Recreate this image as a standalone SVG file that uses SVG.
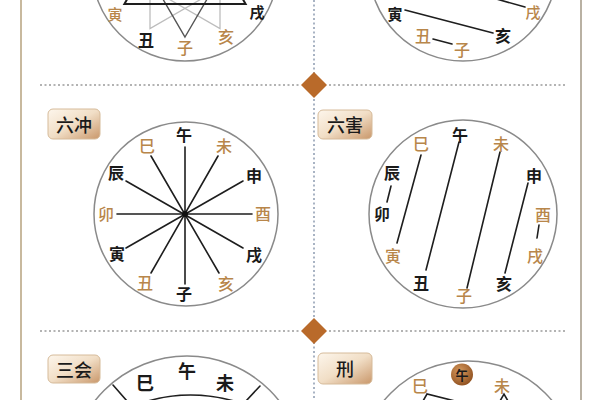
<svg xmlns="http://www.w3.org/2000/svg" width="600" height="400" viewBox="0 0 600 400">
<defs>
<linearGradient id="boxg" x1="0" y1="0" x2="1" y2="1">
<stop offset="0" stop-color="#fdf6ec"/>
<stop offset="0.5" stop-color="#f1dec6"/>
<stop offset="1" stop-color="#c9976a"/>
</linearGradient>
<radialGradient id="badge" cx="0.4" cy="0.35" r="0.7">
<stop offset="0" stop-color="#d79a5e"/>
<stop offset="1" stop-color="#8e4f1e"/>
</radialGradient>
<style>
.ring{fill:none;stroke:#8a8a8a;stroke-width:1.5}
.ln{stroke:#1e1e1e;stroke-width:1.6;fill:none;stroke-linecap:round}
.k{font-family:"Noto Sans CJK SC","Noto Sans CJK JP",sans-serif;font-size:16px;font-weight:700;fill:#1a1a1a;text-anchor:middle;dominant-baseline:central}
.o{font-family:"Noto Sans CJK SC","Noto Sans CJK JP",sans-serif;font-size:16px;font-weight:500;fill:#b8864a;text-anchor:middle;dominant-baseline:central}
.big{font-size:18px}
.sm{font-size:15px}
.box{fill:url(#boxg);stroke:#d6bb9a;stroke-width:1}
.bt{font-family:"Noto Sans CJK SC","Noto Sans CJK JP",sans-serif;font-size:18px;font-weight:500;fill:#1a1a1a;text-anchor:middle;dominant-baseline:central}
.dot{stroke:#9a9a9a;stroke-width:1.5;stroke-dasharray:2 2.5;fill:none}
.vdot{stroke:#8c9ab0;stroke-width:1.5;stroke-dasharray:2 2.5;fill:none}
.dia{fill:#b96a2a}
</style>
</defs>
<rect width="600" height="400" fill="#ffffff"/>

<g id="frame">
<line x1="21" y1="0" x2="21" y2="400" stroke="#c8b99e" stroke-width="2"/>
<line x1="581" y1="0" x2="581" y2="400" stroke="#b9b1a3" stroke-width="2"/>
<line class="vdot" x1="314" y1="0" x2="314" y2="400"/>
<line class="dot" x1="40" y1="85" x2="300" y2="85"/>
<line class="dot" x1="329" y1="85" x2="566" y2="85"/>
<line class="dot" x1="40" y1="331" x2="300" y2="331"/>
<line class="dot" x1="329" y1="331" x2="566" y2="331"/>
<path class="dia" d="M314 72 L327 85 L314 98 L301 85 Z"/>
<path class="dia" d="M314 318 L327 331 L314 344 L301 331 Z"/>
</g>

<g id="sanhe">
<circle class="ring" cx="185" cy="-32" r="93"/>
<g id="connectors-sanhe">
<polygon points="150,28.6 150,-92.6 255,-32" fill="none" stroke="#bdbdbd" stroke-width="1.3"/>
<polygon points="220,28.6 220,-92.6 115,-32" fill="none" stroke="#bdbdbd" stroke-width="1.3"/>
<polygon points="185,37 245.6,-67 124.4,-67" fill="none" stroke="#555" stroke-width="1.4"/>
<polygon points="124.4,4 245.6,4 185,-102" fill="none" stroke="#1e1e1e" stroke-width="2"/>
</g>
<text class="o sm" x="115" y="13">寅</text>
<text class="k sm" x="257" y="11">戌</text>
<text class="k" x="146" y="39">丑</text>
<text class="o" x="185" y="47">子</text>
<text class="o" x="226" y="36">亥</text>
</g>

<g id="liuhe">
<circle class="ring" cx="463" cy="-33" r="94"/>
<g id="connectors-liuhe">
<line class="ln" x1="405" y1="10" x2="493" y2="33"/>
<line class="ln" x1="433" y1="39" x2="452" y2="44"/>
<line class="ln" x1="525" y1="7" x2="400" y2="-28"/>
</g>
<text class="k sm" x="395" y="13">寅</text>
<text class="o sm" x="533" y="11">戌</text>
<text class="o" x="423" y="35">丑</text>
<text class="o" x="462" y="49">子</text>
<text class="k" x="503" y="35">亥</text>
</g>

<g id="liuchong">
<rect class="box" x="48" y="109" width="52" height="30" rx="5"/>
<text class="bt" x="74" y="124">六冲</text>
<circle class="ring" cx="186" cy="214" r="92"/>
<g id="connectors-liuchong">
<line class="ln" x1="185" y1="147" x2="185" y2="284"/>
<line class="ln" x1="218" y1="156" x2="151" y2="273"/>
<line class="ln" x1="243" y1="181" x2="126" y2="248"/>
<line class="ln" x1="252" y1="214" x2="117" y2="214"/>
<line class="ln" x1="243" y1="248" x2="126" y2="181"/>
<line class="ln" x1="219" y1="273" x2="151" y2="156"/>
<circle cx="185" cy="214" r="3" fill="#111"/>
</g>
<text class="k" x="184" y="134">午</text>
<text class="o" x="224" y="145">未</text>
<text class="k" x="254" y="175">申</text>
<text class="o" x="263" y="213">酉</text>
<text class="k" x="254" y="254">戌</text>
<text class="o" x="226" y="283">亥</text>
<text class="k" x="184" y="293">子</text>
<text class="o" x="145" y="282">丑</text>
<text class="k" x="117" y="253">寅</text>
<text class="o" x="106" y="213">卯</text>
<text class="k" x="116" y="172">辰</text>
<text class="o" x="147" y="145">巳</text>
</g>

<g id="liuhai">
<rect class="box" x="318" y="110" width="54" height="29" rx="5"/>
<text class="bt" x="345" y="124">六害</text>
<circle class="ring" cx="463" cy="214" r="94"/>
<g id="connectors-liuhai">
<line class="ln" x1="391" y1="186" x2="387" y2="202"/>
<line class="ln" x1="421" y1="155" x2="397" y2="243"/>
<line class="ln" x1="459" y1="142" x2="426" y2="270"/>
<line class="ln" x1="500" y1="152" x2="467" y2="288"/>
<line class="ln" x1="528" y1="183" x2="505" y2="273"/>
<line class="ln" x1="539" y1="225" x2="537" y2="238"/>
</g>
<text class="o" x="421" y="143">巳</text>
<text class="k" x="460" y="134">午</text>
<text class="o" x="501" y="143">未</text>
<text class="k" x="392" y="172">辰</text>
<text class="k" x="534" y="175">申</text>
<text class="k" x="382" y="213">卯</text>
<text class="o" x="543" y="214">酉</text>
<text class="o" x="393" y="255">寅</text>
<text class="o" x="535" y="255">戌</text>
<text class="k" x="421" y="282">丑</text>
<text class="k" x="504" y="283">亥</text>
<text class="o" x="464" y="295">子</text>
</g>

<g id="sanhui">
<rect class="box" x="48" y="355" width="52" height="28" rx="5"/>
<text class="bt" x="74" y="369">三会</text>
<circle class="ring" cx="187" cy="473" r="117"/>
<line class="ln" x1="113" y1="385" x2="127" y2="401"/>
<line class="ln" x1="260" y1="386" x2="246" y2="401"/>
<path class="ln" d="M148 401 Q190 389 234 401"/>
<text class="k big" x="145" y="382">巳</text>
<text class="k big" x="187" y="370">午</text>
<text class="k big" x="225" y="382">未</text>
</g>

<g id="xing">
<rect class="box" x="318" y="353" width="54" height="31" rx="5"/>
<text class="bt" x="345" y="368">刑</text>
<circle class="ring" cx="468" cy="470" r="109"/>
<circle cx="462" cy="374.5" r="11" fill="url(#badge)"/>
<text class="k" x="462" y="374" style="font-size:13px">午</text>
<text class="o" x="420" y="385">巳</text>
<text class="o" x="502" y="385">未</text>
<path class="ln" d="M423 401 L427 394 L455 401"/>
<path class="ln" d="M500 401 L504 394 L508 401"/>
</g>
</svg>
